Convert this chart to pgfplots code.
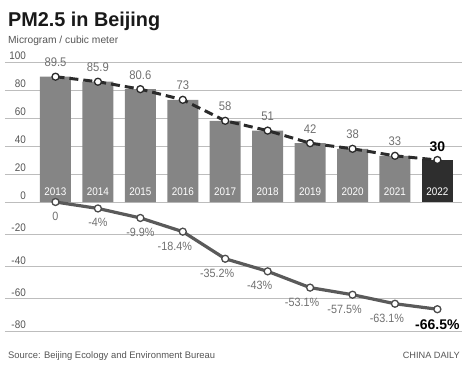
\documentclass[border=0pt]{standalone}
\usepackage{graphicx}
\usepackage{pgfplots}
\pgfplotsset{compat=1.18}
\usepackage{fontspec}
\setmainfont{Liberation Sans}
\newfontfamily\cond[FakeStretch=0.9]{Liberation Sans}
\definecolor{bargray}{HTML}{858585}
\definecolor{bardark}{HTML}{2E2E2E}
\definecolor{linedark}{HTML}{2B2B2B}
\definecolor{linegray}{HTML}{5A5A5A}
\definecolor{gridgray}{HTML}{BDBDBD}
\definecolor{labgray}{HTML}{707070}
\definecolor{tickgray}{HTML}{555555}
\begin{document}
\begin{tikzpicture}
\path[use as bounding box] (0,0) rectangle (467pt,-365pt);
\pgfplotsset{
 base/.style={
  scale only axis, width=457pt, xmin=-1.19, xmax=9.58,
  axis line style={draw=none}, major tick length=0pt, tick style={draw=none},
  xtick=\empty, ymajorgrids, grid style={gridgray, line width=0.8pt},
  yticklabel style={anchor=south east, inner sep=0pt, xshift=21pt, yshift=2pt,
    font=\cond\fontsize{11}{11}\selectfont, text=tickgray},
  /pgf/number format/assume math mode=true,
  clip=false,
 }
}
% upper axis: PM2.5 concentration
\begin{axis}[base, at={(5pt,-202pt)}, anchor=south west, height=140pt,
  ymin=0, ymax=100, ytick={0,20,...,100}]
\addplot[ybar, bar width=31pt, bar shift=0pt, fill=bargray, draw=none,
  nodes near coords,
  nodes near coords style={anchor=base, inner sep=0pt, yshift=10pt,
    font=\cond\fontsize{12.5}{12.5}\selectfont, text=labgray}]
  coordinates {(0,89.5) (1,85.9) (2,80.6) (3,73) (4,58) (5,51) (6,42) (7,38) (8,33)};
\addplot[ybar, bar width=31pt, bar shift=0pt, fill=bardark, draw=none,
  nodes near coords,
  nodes near coords style={anchor=base, inner sep=0pt, yshift=9pt,
    font=\fontsize{14}{14}\selectfont\bfseries, text=black}]
  coordinates {(9,30)};
% year labels inside bars
\addplot[draw=none, mark=none, nodes near coords, point meta=explicit symbolic,
  nodes near coords style={anchor=base, inner sep=0pt, yshift=7pt,
    font=\cond\fontsize{11}{11}\selectfont, text=white}]
  coordinates {(0,0) [2013] (1,0) [2014] (2,0) [2015] (3,0) [2016] (4,0) [2017]
               (5,0) [2018] (6,0) [2019] (7,0) [2020] (8,0) [2021] (9,0) [2022]};
\addplot[linedark, line width=3pt, dash pattern=on 9pt off 5pt,
  mark=*, mark size=3.5pt, mark options={solid, fill=white, draw=linedark, line width=1.3pt}]
  coordinates {(0,89.5) (1,85.9) (2,80.6) (3,73) (4,58) (5,51) (6,42) (7,38) (8,33) (9,30)};
\end{axis}
% lower axis: change since 2013
\begin{axis}[base, at={(5pt,-202pt)}, anchor=north west, height=129pt,
  ymin=-80, ymax=0, ytick={-80,-60,-40,-20}]
\addplot[linegray, line width=3.2pt, mark=*, mark size=3.5pt,
  mark options={fill=white, draw=linedark!85, line width=1.3pt}]
  coordinates {(0,0) (1,-4) (2,-9.9) (3,-18.4) (4,-35.2) (5,-43) (6,-53.1) (7,-57.5) (8,-63.1) (9,-66.5)};
\addplot[draw=none, mark=none, nodes near coords, point meta=explicit symbolic,
  nodes near coords style={anchor=north, inner sep=0pt, yshift=-10pt,
    font=\cond\fontsize{12}{12}\selectfont, text=labgray}]
  coordinates {(0,0) [0] (1,-4) [-4\%] (2,-9.9) [-9.9\%]};
\addplot[draw=none, mark=none, nodes near coords, point meta=explicit symbolic,
  nodes near coords style={anchor=north, inner sep=0pt, yshift=-10pt, xshift=-8pt,
    font=\cond\fontsize{12}{12}\selectfont, text=labgray}]
  coordinates {(3,-18.4) [-18.4\%] (4,-35.2) [-35.2\%] (5,-43) [-43\%]
               (6,-53.1) [-53.1\%] (7,-57.5) [-57.5\%] (8,-63.1) [-63.1\%]};
\addplot[draw=none, mark=none, nodes near coords, point meta=explicit symbolic,
  nodes near coords style={anchor=north, inner sep=0pt, yshift=-10pt,
    font=\fontsize{14}{14}\selectfont\bfseries, text=black}]
  coordinates {(9,-66.5) [-66.5\%]};
\end{axis}
\node[anchor=base west, inner sep=0pt, font=\fontsize{20}{20}\selectfont\bfseries, text=black!90]
  at (8pt,-26pt) {\resizebox{152pt}{\height}{PM2.5 in Beijing}};
\node[anchor=base west, inner sep=0pt, font=\fontsize{10.3}{11}\selectfont, text=tickgray]
  at (8pt,-43pt) {\resizebox{110pt}{\height}{Microgram / cubic meter}};
\node[anchor=base west, inner sep=0pt, font=\fontsize{9.5}{10}\selectfont, text=tickgray]
  at (8pt,-358pt) {\resizebox{207pt}{\height}{Source: Beijing Ecology and Environment Bureau}};
\node[anchor=base east, inner sep=0pt, font=\fontsize{9.1}{10}\selectfont, text=tickgray]
  at (460pt,-358pt) {\resizebox{57pt}{\height}{CHINA DAILY}};
\end{tikzpicture}
\end{document}
